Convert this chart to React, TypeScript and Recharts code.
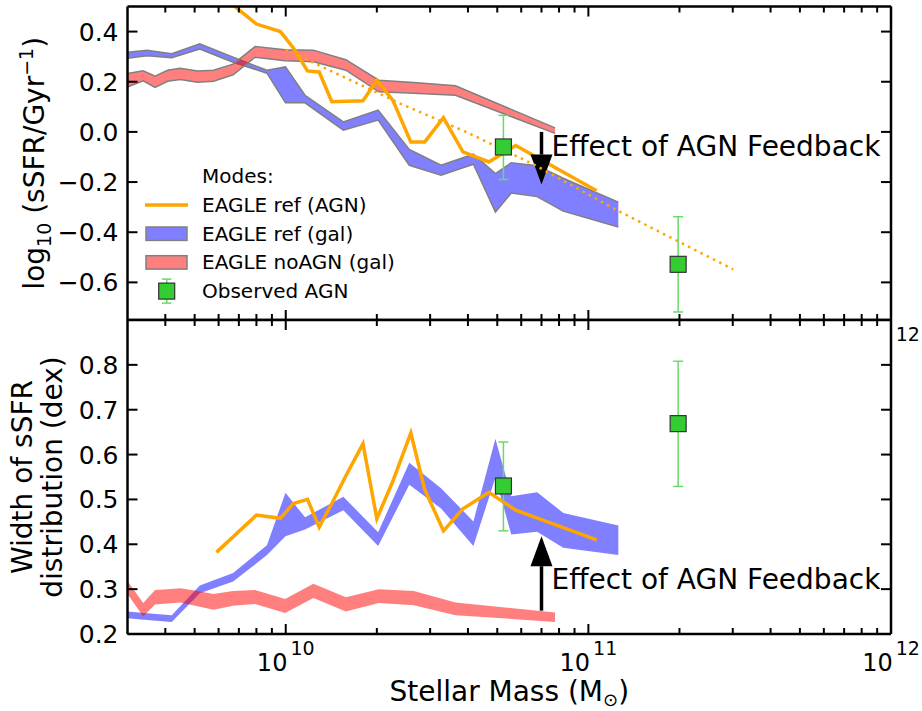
import React from 'react'
import {
  ComposedChart,
  Area,
  Line,
  Scatter,
  XAxis,
  YAxis,
  ErrorBar,
  ReferenceLine,
  CartesianGrid,
  Legend,
} from 'recharts'

const FONT = '"DejaVu Sans", sans-serif'
const W = 922
const H = 711

// stellar mass bins (Msun) and values

// EAGLE ref, AGN hosts (orange line)
const agnMass = [5.9e9, 8.0e9, 9.6e9, 1.06e10, 1.18e10, 1.29e10, 1.42e10, 1.59e10, 1.8e10, 2.0e10, 2.26e10, 2.59e10, 2.88e10, 3.32e10, 3.85e10, 4.69e10, 5.75e10, 1.065e11]
const agnSsfr = [0.56, 0.43, 0.4, 0.335, 0.243, 0.239, 0.12, 0.122, 0.124, 0.206, 0.126, -0.04, -0.04, 0.057, -0.08, -0.12, -0.054, -0.235]
const agnWidth = [0.382, 0.465, 0.458, 0.491, 0.5, 0.438, 0.491, 0.556, 0.624, 0.457, 0.541, 0.648, 0.522, 0.43, 0.479, 0.516, 0.476, 0.41]

// EAGLE ref, all galaxies (blue band)
const refMass = [3.0e9, 3.48e9, 4.2e9, 5.2e9, 6.7e9, 8.67e9, 9.98e9, 1.158e10, 1.55e10, 2.02e10, 2.56e10, 3.26e10, 4.17e10, 4.93e10, 5.56e10, 6.77e10, 8.26e10, 1.256e11]
const refSsfrLo = [0.294, 0.304, 0.296, 0.33, 0.278, 0.234, 0.116, 0.116, 0.007, 0.047, -0.133, -0.173, -0.129, -0.32, -0.244, -0.258, -0.316, -0.379]
const refSsfrHi = [0.318, 0.326, 0.312, 0.351, 0.298, 0.246, 0.259, 0.146, 0.04, 0.087, -0.07, -0.133, -0.089, -0.166, -0.123, -0.135, -0.185, -0.28]
const refWidthLo = [0.235, 0.231, 0.227, 0.291, 0.317, 0.376, 0.418, 0.433, 0.476, 0.396, 0.533, 0.48, 0.396, 0.549, 0.422, 0.428, 0.392, 0.376]
const refWidthHi = [0.25, 0.246, 0.242, 0.308, 0.336, 0.398, 0.515, 0.46, 0.506, 0.427, 0.582, 0.525, 0.451, 0.635, 0.507, 0.516, 0.47, 0.442]

// EAGLE noAGN, all galaxies (red band)
const noAgnMass = [3.0e9, 3.38e9, 3.7e9, 4.07e9, 4.48e9, 5.11e9, 5.77e9, 6.7e9, 7.92e9, 9.95e9, 1.234e10, 1.58e10, 2.03e10, 2.65e10, 3.64e10, 7.76e10]
const noAgnSsfrLo = [0.179, 0.204, 0.177, 0.202, 0.209, 0.198, 0.202, 0.228, 0.298, 0.284, 0.28, 0.246, 0.16, 0.154, 0.146, -0.006]
const noAgnSsfrHi = [0.233, 0.244, 0.222, 0.246, 0.254, 0.243, 0.246, 0.27, 0.34, 0.328, 0.326, 0.288, 0.206, 0.197, 0.184, 0.016]
const noAgnWidthLo = [0.289, 0.239, 0.266, 0.268, 0.27, 0.262, 0.254, 0.263, 0.267, 0.247, 0.28, 0.25, 0.269, 0.264, 0.242, 0.227]
const noAgnWidthHi = [0.318, 0.269, 0.298, 0.3, 0.302, 0.296, 0.289, 0.296, 0.298, 0.278, 0.312, 0.282, 0.3, 0.296, 0.27, 0.248]

// dotted trend line (top panel)
const fitMass = [1.0e10, 2.39e10, 3.96e10, 6.58e10, 1.242e11, 3.01e11]
const fitSsfr = [0.328, 0.113, -0.001, -0.129, -0.312, -0.548]

// observed AGN (green squares), errors as [down, up]
const obsMass = [5.24e10, 1.98e11]
const obsSsfr = [-0.06, -0.528]
const obsSsfrErr = [[0.13, 0.126], [0.19, 0.19]]
const obsWidth = [0.53, 0.669]
const obsWidthErr = [[0.1, 0.098], [0.14, 0.139]]

// annotation arrows: mass, [tail, tip]
const arrowMass = 7.0e10
const ssfrArrow = [0.0, -0.21]
const widthArrow = [0.252, 0.418]

const xTicks = [4e9, 5e9, 6e9, 7e9, 8e9, 9e9, 1e10, 2e10, 3e10, 4e10, 5e10, 6e10, 7e10, 8e10, 9e10, 1e11, 2e11, 3e11, 4e11, 5e11, 6e11, 7e11, 8e11, 9e11, 1e12]
const ssfrTicks = [-0.6, -0.4, -0.2, 0, 0.2, 0.4]
const widthTicks = [0.2, 0.3, 0.4, 0.5, 0.6, 0.7, 0.8]

const legendItems = [
  { label: 'EAGLE ref (AGN)', kind: 'line', color: '#ffa500' },
  { label: 'EAGLE ref (gal)', kind: 'patch', color: '#0000ff' },
  { label: 'EAGLE noAGN (gal)', kind: 'patch', color: '#ff0000' },
  { label: 'Observed AGN', kind: 'marker', color: '#33cc33' },
]

const band = (mass: number[], lo: number[], hi: number[]) =>
  mass.map((m, i) => ({ m, lo: lo[i], hi: hi[i] }))
const series = (mass: number[], v: number[]) => mass.map((m, i) => ({ m, v: v[i] }))
const obs = (v: number[], err: number[][]) => obsMass.map((m, i) => ({ m, v: v[i], err: err[i] }))

const agnTop = series(agnMass, agnSsfr)
const agnBottom = series(agnMass, agnWidth)
const refTop = band(refMass, refSsfrLo, refSsfrHi)
const refBottom = band(refMass, refWidthLo, refWidthHi)
const noAgnTop = band(noAgnMass, noAgnSsfrLo, noAgnSsfrHi)
const noAgnBottom = band(noAgnMass, noAgnWidthLo, noAgnWidthHi)
const fitTop = series(fitMass, fitSsfr)
const obsTop = obs(obsSsfr, obsSsfrErr)
const obsBottom = obs(obsWidth, obsWidthErr)

// labelFrom: only label majors at or above this mass (the top panel's
// labels sit under the lower panel, only the last one peeks out)
const XTick = (props: any) => {
  const { x, y, payload, tickDir, showText, labelFrom = 0 } = props
  const e = Math.log10(payload.value)
  const major = Math.abs(e - Math.round(e)) < 1e-6
  return (
    <g>
      <line x1={x} y1={y} x2={x} y2={y + tickDir * (major ? 10 : 6)} stroke="#000" strokeWidth={2} />
      {showText && major && payload.value >= labelFrom && (
        <text x={x} y={y + 37} textAnchor="middle" fontSize={24} fontFamily={FONT} fill="#000">
          10<tspan dx={3} dy={-16} fontSize={19}>{Math.round(e)}</tspan>
        </text>
      )}
    </g>
  )
}

const YTick = (props: any) => {
  const { x, y, payload, tickDir, showText } = props
  const label = Number(payload.value).toFixed(1).replace('-', '\u2212')
  return (
    <g>
      <line x1={x} y1={y} x2={x + tickDir * 10} y2={y} stroke="#000" strokeWidth={2} />
      {showText && (
        <text x={x - 9} y={y} dy="0.36em" textAnchor="end" fontSize={25} fontFamily={FONT} fill="#000">
          {label}
        </text>
      )}
    </g>
  )
}

const ssfrTitle = (props: any) => {
  const vb = props.viewBox
  const cx = 34
  const cy = vb.y + vb.height / 2
  return (
    <text transform={`rotate(-90 ${cx} ${cy})`} x={cx} y={cy} dy="0.35em" textAnchor="middle" fontSize={28} fontFamily={FONT} fill="#000">
      log<tspan dy={7} fontSize={19}>10</tspan>
      <tspan dy={-7}> (sSFR/Gyr</tspan>
      <tspan dy={-11} fontSize={19}>{'\u22121'}</tspan>
      <tspan dy={11}>)</tspan>
    </text>
  )
}

const widthTitle = (props: any) => {
  const vb = props.viewBox
  const cy = vb.y + vb.height / 2
  const lines = ['Width of sSFR', 'distribution (dex)']
  return (
    <g>
      {lines.map((t, i) => {
        const cx = 22 + i * 30
        return (
          <text key={t} transform={`rotate(-90 ${cx} ${cy})`} x={cx} y={cy} dy="0.35em" textAnchor="middle" fontSize={28} fontFamily={FONT} fill="#000">
            {t}
          </text>
        )
      })}
    </g>
  )
}

const massTitle = (props: any) => {
  const vb = props.viewBox
  return (
    <text x={vb.x + vb.width / 2} y={vb.y + 67} textAnchor="middle" fontSize={28} fontFamily={FONT} fill="#000">
      Stellar Mass (M<tspan dy={5} fontSize={18}>{'\u2299'}</tspan>
      <tspan dy={-5}>)</tspan>
    </text>
  )
}

const arrowShape = (text: string, textDy: number) => (p: any) => {
  const { x1, y1, x2, y2 } = p
  const dir = Math.sign(y2 - y1)
  const baseY = y2 - dir * 30
  return (
    <g>
      <line x1={x1} y1={y1} x2={x2} y2={baseY} stroke="#000" strokeWidth={3.5} />
      <polygon points={`${x2},${y2} ${x2 - 11},${baseY} ${x2 + 11},${baseY}`} fill="#000" />
      <text x={x1 + 10} y={y1 + textDy} fontSize={28} fontFamily={FONT} fill="#000">
        {text}
      </text>
    </g>
  )
}

const squareShape = (p: any) => (
  <rect x={p.cx - 8} y={p.cy - 8} width={16} height={16} fill="#33cc33" stroke="#333" strokeWidth={1.2} />
)

const ModesLegend = () => {
  const rowY = (i: number) => 45 + i * 28.7
  return (
    <svg width={280} height={150} style={{ display: 'block', overflow: 'visible' }}>
      <text x={62} y={16} dy="0.35em" fontSize={20} fontFamily={FONT} fill="#000">Modes:</text>
      {legendItems.map((it, i) => {
        const y = rowY(i)
        return (
          <g key={it.label}>
            {it.kind === 'line' && <line x1={5} y1={y} x2={48} y2={y} stroke={it.color} strokeWidth={3.5} />}
            {it.kind === 'patch' && (
              <rect x={6} y={y - 6.7} width={41} height={13.4} fill={it.color} fillOpacity={0.5} stroke="#808080" strokeWidth={1.5} />
            )}
            {it.kind === 'marker' && (
              <g>
                <line x1={26.7} y1={y - 12} x2={26.7} y2={y + 12} stroke="#6ad96a" strokeWidth={1.5} />
                <line x1={22} y1={y - 12} x2={31.4} y2={y - 12} stroke="#6ad96a" strokeWidth={1.5} />
                <line x1={22} y1={y + 12} x2={31.4} y2={y + 12} stroke="#6ad96a" strokeWidth={1.5} />
                <rect x={18.7} y={y - 8} width={16} height={16} fill={it.color} stroke="#333" strokeWidth={1.2} />
              </g>
            )}
            <text x={62} y={y} dy="0.35em" fontSize={20} fontFamily={FONT} fill="#000">{it.label}</text>
          </g>
        )
      })}
    </svg>
  )
}

const axisLine = { stroke: '#000', strokeWidth: 2.5 }

// axes get a 1px size (zero-size axes are not drawn); margins compensate
function xAxes(labelFrom: number) {
  return [
    <XAxis
      key="xb"
      dataKey="m"
      type="number"
      scale="log"
      domain={[3e9, 1e12]}
      allowDataOverflow
      ticks={xTicks}
      interval={0}
      height={1}
      tickSize={0}
      tickMargin={0}
      tickLine={false}
      axisLine={axisLine}
      tick={<XTick tickDir={-1} showText labelFrom={labelFrom} />}
      label={massTitle}
    />,
    <XAxis
      key="xt"
      xAxisId="top"
      orientation="top"
      dataKey="m"
      type="number"
      scale="log"
      domain={[3e9, 1e12]}
      allowDataOverflow
      ticks={xTicks}
      interval={0}
      height={1}
      tickSize={0}
      tickMargin={0}
      tickLine={false}
      axisLine={axisLine}
      tick={<XTick tickDir={1} showText={false} />}
    />,
  ]
}

function yAxes(domain: number[], ticks: number[], title: any) {
  return [
    <YAxis
      key="yl"
      type="number"
      domain={domain}
      allowDataOverflow
      ticks={ticks}
      interval={0}
      width={1}
      tickSize={0}
      tickMargin={0}
      tickLine={false}
      axisLine={axisLine}
      tick={<YTick tickDir={1} showText />}
      label={title}
    />,
    <YAxis
      key="yr"
      yAxisId="right"
      orientation="right"
      type="number"
      domain={domain}
      allowDataOverflow
      ticks={ticks}
      interval={0}
      width={1}
      tickSize={0}
      tickMargin={0}
      tickLine={false}
      axisLine={axisLine}
      tick={<YTick tickDir={-1} showText={false} />}
    />,
  ]
}

export default function App() {
  return (
    <div style={{ position: 'absolute', left: 0, top: 0, width: W, height: H, fontFamily: FONT }}>
      <div style={{ position: 'absolute', left: 0, top: 0 }}>
        <ComposedChart width={W} height={H} margin={{ top: 5.5, right: 30, bottom: 390, left: 126.5 }}>
          {xAxes(1e12)}
          {yAxes([-0.75, 0.5], ssfrTicks, ssfrTitle)}
          <Area data={refTop} type="linear" dataKey={(d: any) => [d.lo, d.hi]} fill="#0000ff" fillOpacity={0.5} stroke="#808080" strokeWidth={1.5} dot={false} activeDot={false} isAnimationActive={false} />
          <Area data={noAgnTop} type="linear" dataKey={(d: any) => [d.lo, d.hi]} fill="#ff0000" fillOpacity={0.5} stroke="#808080" strokeWidth={1.5} dot={false} activeDot={false} isAnimationActive={false} />
          <Line data={agnTop} type="linear" dataKey="v" stroke="#ffa500" strokeWidth={3.5} dot={false} activeDot={false} isAnimationActive={false} />
          <ReferenceLine segment={[{ x: arrowMass, y: ssfrArrow[0] }, { x: arrowMass, y: ssfrArrow[1] }]} shape={arrowShape('Effect of AGN Feedback', 24)} />
          <Line data={fitTop} type="linear" dataKey="v" stroke="#ffa500" strokeWidth={2.5} strokeDasharray="2.5 4.5" dot={false} activeDot={false} isAnimationActive={false} />
          <Scatter data={obsTop} dataKey="v" shape={squareShape} isAnimationActive={false}>
            <ErrorBar dataKey="err" direction="y" width={5} stroke="#6ad96a" strokeWidth={1.5} isAnimationActive={false} />
          </Scatter>
          <Legend
            layout="vertical"
            align="center"
            verticalAlign="middle"
            wrapperStyle={{ left: 140, top: 160, width: 280, height: 150 }}
            content={() => <ModesLegend />}
          />
        </ComposedChart>
      </div>
      <div style={{ position: 'absolute', left: 0, top: 0 }}>
        <ComposedChart width={W} height={H} margin={{ top: 319, right: 30, bottom: 76, left: 126.5 }}>
          <CartesianGrid fill="#ffffff" stroke="none" />
          {xAxes(0)}
          {yAxes([0.2, 0.9], widthTicks, widthTitle)}
          <Area data={refBottom} type="linear" dataKey={(d: any) => [d.lo, d.hi]} fill="#0000ff" fillOpacity={0.5} stroke="none" dot={false} activeDot={false} isAnimationActive={false} />
          <Area data={noAgnBottom} type="linear" dataKey={(d: any) => [d.lo, d.hi]} fill="#ff0000" fillOpacity={0.5} stroke="none" dot={false} activeDot={false} isAnimationActive={false} />
          <Line data={agnBottom} type="linear" dataKey="v" stroke="#ffa500" strokeWidth={3.5} dot={false} activeDot={false} isAnimationActive={false} />
          <ReferenceLine segment={[{ x: arrowMass, y: widthArrow[0] }, { x: arrowMass, y: widthArrow[1] }]} shape={arrowShape('Effect of AGN Feedback', -22)} />
          <Scatter data={obsBottom} dataKey="v" shape={squareShape} isAnimationActive={false}>
            <ErrorBar dataKey="err" direction="y" width={5} stroke="#6ad96a" strokeWidth={1.5} isAnimationActive={false} />
          </Scatter>
        </ComposedChart>
      </div>
    </div>
  )
}
